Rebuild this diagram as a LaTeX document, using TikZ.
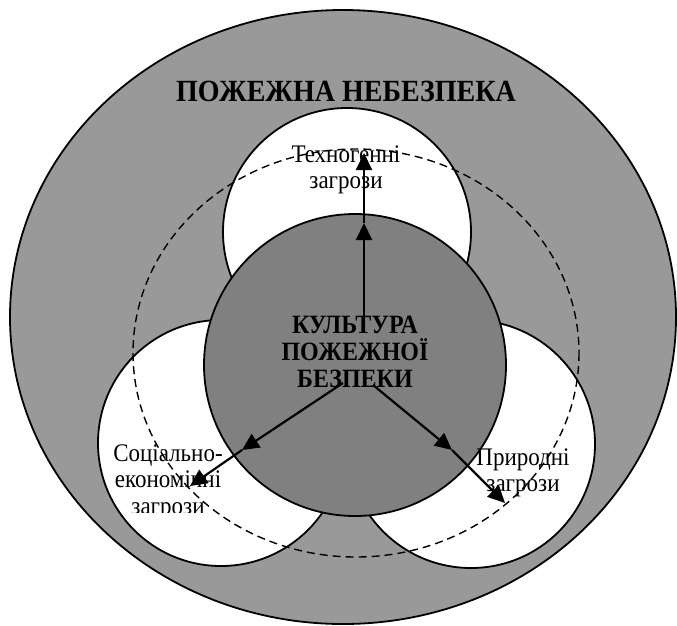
\documentclass[tikz,border=0pt]{standalone}
\usepackage{fontspec}
\usepackage{graphicx}
\setmainfont{Liberation Serif}
\usetikzlibrary{arrows.meta}
\definecolor{outergray}{gray}{0.6}
\definecolor{innergray}{gray}{0.5}
\newcommand{\vst}[1]{\scalebox{1}[1.1]{#1}}
\tikzset{
  ring/.style={draw=black, line width=1.8pt},
  dashring/.style={draw=black, line width=1.4pt, dash pattern=on 8pt off 5pt},
  arr/.style={line width=2.2pt, -{Triangle[length=17pt,width=16pt]}},
  lbl/.style={align=center, font=\fontsize{23}{26.5}\selectfont, inner sep=0pt},
  bold/.style={align=center, font=\fontsize{24}{27}\selectfont\bfseries, inner sep=0pt},
  title/.style={font=\fontsize{28}{32}\selectfont\bfseries, inner sep=0pt}
}
\begin{document}
\begin{tikzpicture}[x=1pt,y=-1pt]
\useasboundingbox (0,0) rectangle (677,625);
% outer area
\filldraw[ring, fill=outergray] (343,317) ellipse [x radius=333, y radius=307];
% three white circles
\filldraw[ring, fill=white] (347,232) circle [radius=124];
\filldraw[ring, fill=white] (221,443) circle [radius=123];
\filldraw[ring, fill=white] (471,444) circle [radius=124];
% central circle
\filldraw[ring, fill=innergray] (355,365) circle [radius=151];
% texts
\node[title] (t) at (346,91) {\vst{ПОЖЕЖНА НЕБЕЗПЕКА}};
\node[bold] (core) at (355,352) {\vst{КУЛЬТУРА}\\\vst{ПОЖЕЖНОЇ}\\\vst{БЕЗПЕКИ}};
\node[lbl] (tech) at (346,170) {\vst{Техногенні}\\\vst{загрози}};
\begin{scope}
\clip (0,0) rectangle (677,512);
\node[lbl] (soc) at (168,482) {\vst{Соціально-}\\\vst{економічні}\\\vst{загрози}};
\end{scope}
\node[lbl] (nat) at (523,473) {\vst{Природні}\\\vst{загрози}};
% dashed ellipse
\draw[dashring] (356,353) ellipse [x radius=223, y radius=204];
% arrows
\coordinate (c0) at (364,318);
\coordinate (c1) at (364,223);
\coordinate (c2) at (364,153);
\coordinate (l0) at (343,383);
\coordinate (l1) at (242,450);
\coordinate (l2) at (190,486);
\coordinate (r0) at (373,385);
\coordinate (r1) at (452,450);
\coordinate (r2) at (505,503);
\draw[arr] (c0) -- (c1);
\draw[arr] (c1) -- (c2);
\draw[arr] (l0) -- (l1);
\draw[arr] (l1) -- (l2);
\draw[arr] (r0) -- (r1);
\draw[arr] (r1) -- (r2);
\end{tikzpicture}
\end{document}
